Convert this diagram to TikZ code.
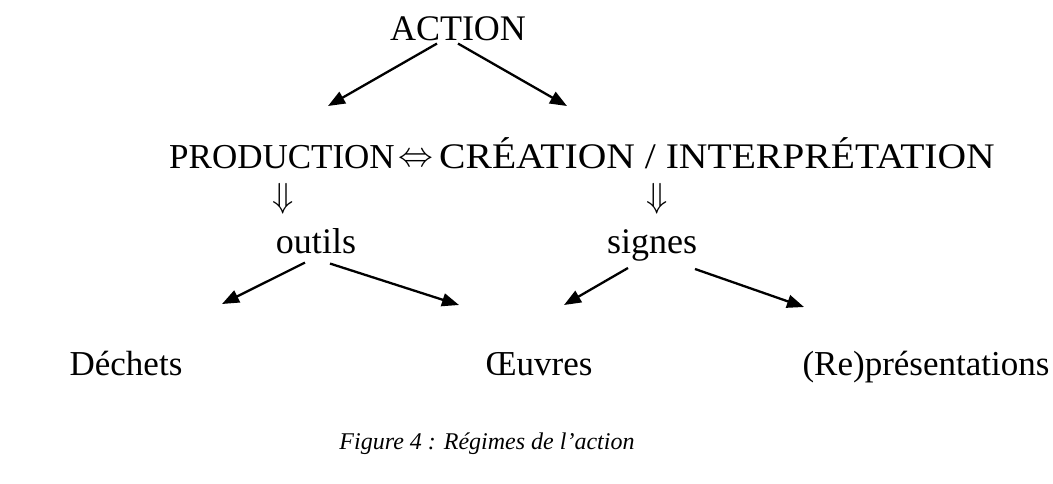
\documentclass[tikz,border=0pt]{standalone}
\usepackage{fontspec}
\setmainfont{Liberation Serif}
\usetikzlibrary{arrows.meta}
\begin{document}
\begin{tikzpicture}[x=1pt,y=-1pt,
  lbl/.style={anchor=base,inner sep=0pt,font=\fontsize{36}{40}\selectfont},
  low/.style={anchor=base,inner sep=0pt,font=\fontsize{35}{40}\selectfont},
  captext/.style={anchor=base,inner sep=0pt,font=\fontsize{24}{28}\selectfont\itshape},
  arr/.style={line width=2.3pt,-{Triangle[length=17pt,width=13pt]}},
  dbl/.style={anchor=center,inner sep=0pt,font=\fontsize{24}{28}\selectfont,scale=1.4}]
\useasboundingbox (0,0) rectangle (1053,483);
\node[lbl] (action) at (458,40) {ACTION};
\node[low] (prod) at (282,168) {PRODUCTION};
\node[dbl] (equiv) at (416,160) {$\Leftrightarrow$};
\node[lbl,xscale=1.1] (crea) at (717,168) {CRÉATION / INTERPRÉTATION};
\node[dbl] (d1) at (283,199) {$\Downarrow$};
\node[dbl] (d2) at (657,199) {$\Downarrow$};
\node[lbl] (outils) at (316,253) {outils};
\node[lbl] (signes) at (652,253) {signes};
\node[low] (dechets) at (126,375) {Déchets};
\node[low] (oeuvres) at (539,375) {Œuvres};
\node[low] (repr) at (926,375) {(Re)présentations};
\node[captext] (caption) at (487,449) {Figure 4 : Régimes de l’action};
\coordinate (a1) at (328,106);
\coordinate (a2) at (567,106);
\coordinate (o1) at (222,304);
\coordinate (o2) at (459,305);
\coordinate (s1) at (564,305);
\coordinate (s2) at (804,307);
\draw[arr] ([xshift=-21pt,yshift=-3pt]action.south) -- (a1);
\draw[arr] ([xshift=0pt,yshift=-3pt]action.south) -- (a2);
\draw[arr] ([xshift=-11pt,yshift=-9pt]outils.south) -- (o1);
\draw[arr] ([xshift=14pt,yshift=-10pt]outils.south) -- (o2);
\draw[arr] ([xshift=-24pt,yshift=-7pt]signes.south) -- (s1);
\draw[arr] ([xshift=43pt,yshift=-8pt]signes.south) -- (s2);
\end{tikzpicture}
\end{document}
